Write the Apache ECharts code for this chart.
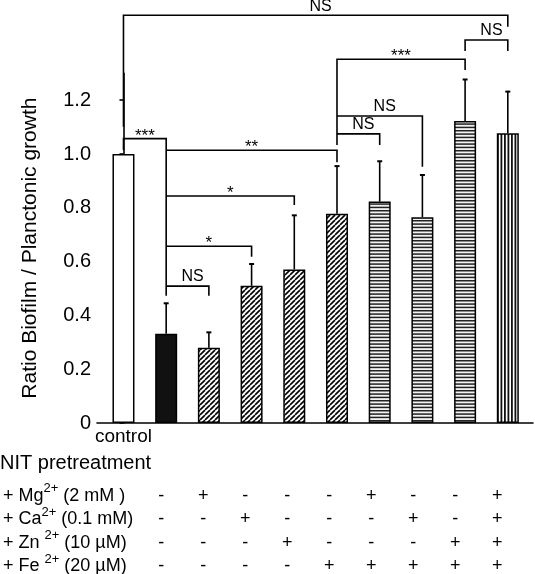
<!DOCTYPE html>
<html><head><meta charset="utf-8">
<script src="https://cdn.jsdelivr.net/npm/echarts@6/dist/echarts.min.js"></script>
<style>html,body{margin:0;padding:0;background:#fff}#c{width:535px;height:574px}</style>
</head><body><div id="c"></div>
<script>
// ---------- data ----------
const categories = ['control','NIT','NIT+Mg','NIT+Ca','NIT+Zn','NIT+Fe','NIT+Fe+Mg','NIT+Fe+Ca','NIT+Fe+Zn','NIT+Fe+Mg+Ca+Zn'];
const ratio      = [1.00, 0.332, 0.280, 0.510, 0.571, 0.778, 0.823, 0.765, 1.123, 1.077];
const errorTop   = [null, 0.445, 0.337, 0.591, 0.772, 0.955, 0.973, 0.922, 1.277, 1.232];
const barFill    = ['open','solid','diag','diag','diag','diag','horiz','horiz','horiz','vert'];
const yTicks     = [0, 0.2, 0.4, 0.6, 0.8, 1.0, 1.2];
const xTickLabels = ['control'];

const tableTitle = 'NIT pretreatment';
const rowNames = ['+ Mg{s|2+} (2 mM )', '+ Ca{s|2+} (0.1 mM)', '+ Zn {s|2+} (10 µM)', '+ Fe {s|2+} (20 µM)'];
const mgRow = ['', '-', '+', '-', '-', '-', '+', '-', '-', '+'];
const caRow = ['', '-', '-', '+', '-', '-', '-', '+', '-', '+'];
const znRow = ['', '-', '-', '-', '+', '-', '-', '-', '+', '+'];
const feRow = ['', '-', '-', '-', '-', '+', '+', '+', '+', '+'];

const bracketFrom     = [0, 8, 5, 5, 5, 0, 1, 1, 1, 1];
const bracketTo       = [9, 9, 8, 7, 6, 1, 5, 4, 3, 2];
const bracketLevel    = [1.516, 1.424, 1.352, 1.141, 1.075, 1.057, 1.014, 0.844, 0.657, 0.509];
const bracketLeftEnd  = [1.101, 1.383, 1.033, 1.141, 1.075, 1.015, 1.014, 0.844, 0.657, 0.509];
const bracketRightEnd = [1.473, 1.383, 1.312, 0.953, 1.033, 0.473, 0.969, 0.810, 0.618, 0.473];
const bracketLabel    = ['NS', 'NS', '***', 'NS', 'NS', '***', '**', '*', '*', 'NS'];

// ---------- styles ----------
const FONT = "'Liberation Sans', Arial, Helvetica, sans-serif";
function makePattern(kind) {
  const c = document.createElement('canvas');
  const g = c.getContext('2d');
  if (kind === 'diag') {
    c.width = 5; c.height = 5;
    g.fillStyle = '#fff'; g.fillRect(0, 0, 5, 5);
    g.strokeStyle = '#000'; g.lineWidth = 1.6;
    for (const o of [-5, 0, 5]) { g.beginPath(); g.moveTo(o, 5); g.lineTo(o + 5, 0); g.stroke(); }
  } else if (kind === 'horiz') {
    c.width = 4; c.height = 10;
    g.fillStyle = '#f2f2f2'; g.fillRect(0, 0, 4, 10);
    g.fillStyle = '#222';
    for (const o of [0, 3.333, 6.667]) g.fillRect(0, o, 4, 1.5);
  } else if (kind === 'vert') {
    c.width = 7; c.height = 4;
    g.fillStyle = '#fff'; g.fillRect(0, 0, 7, 4);
    g.fillStyle = '#111';
    g.fillRect(0, 0, 1.8, 4); g.fillRect(3.5, 0, 1.8, 4);
  }
  return { image: c, repeat: 'repeat' };
}
const fills = { open: '#fff', solid: '#111', diag: makePattern('diag'), horiz: makePattern('horiz'), vert: makePattern('vert') };

const chart = echarts.init(document.getElementById('c'), null, { renderer: 'canvas' });

const barData = ratio.map((v, i) => ({ value: [i, v], itemStyle: { color: fills[barFill[i]] } }));
const errData = [];
errorTop.forEach((t, i) => { if (t != null) errData.push([i, ratio[i], t]); });
const bracketData = bracketFrom.map((f, k) => [f, bracketTo[k], bracketLevel[k], bracketLeftEnd[k], bracketRightEnd[k], k]);
const tableData = [];
for (let i = 1; i < categories.length; i++) tableData.push([i, 0]);
const rows = [mgRow, caRow, znRow, feRow];
const rowOffsets = [73, 96.5, 120, 143.5];

const option = {
  animation: false,
  backgroundColor: '#fff',
  grid: { left: 97, right: 2, top: 423 - 1.3 * 269, bottom: 151 },
  xAxis: {
    type: 'value', min: -0.62, max: 9.59,
    axisLine: { show: true, lineStyle: { color: '#000', width: 1.6 } },
    axisTick: { show: false },
    splitLine: { show: false },
    axisLabel: {
      customValues: [0], margin: 4,
      formatter: v => xTickLabels[Math.round(v)] || '',
      color: '#000', fontSize: 19, fontFamily: FONT
    }
  },
  yAxis: {
    type: 'value', min: 0, max: 1.3,
    name: 'Ratio Biofilm / Planctonic growth', nameLocation: 'middle', nameGap: 56, nameRotate: 90,
    nameTextStyle: { color: '#000', fontSize: 21, fontFamily: FONT },
    axisLine: { show: true, lineStyle: { color: '#000', width: 1.6 } },
    axisTick: { show: true, customValues: yTicks, length: 4, lineStyle: { color: '#000', width: 1.6 } },
    splitLine: { show: false },
    axisLabel: {
      customValues: yTicks, margin: 6,
      formatter: v => v === 0 ? '0' : v.toFixed(1),
      color: '#000', fontSize: 20, fontFamily: FONT
    }
  },
  graphic: [
    { type: 'text', left: 0, top: 453, style: { text: tableTitle, fill: '#000', font: '20px ' + FONT } },
    ...rowNames.map((t, r) => ({
      type: 'text', left: 3, top: 423 + rowOffsets[r] - 14,
      style: {
        text: '{b|' + t.replace(/\{s\|([^}]*)\}/g, '}{s|$1}{b|') + '}',
        rich: {
          b: { fontSize: 18, lineHeight: 23, verticalAlign: 'bottom', fill: '#000', fontFamily: FONT },
          s: { fontSize: 13, lineHeight: 13, verticalAlign: 'top', fill: '#000', fontFamily: FONT }
        }
      }
    }))
  ],
  series: [
    {
      type: 'custom', name: 'error', z: 1,
      renderItem: (p, api) => {
        const a = api.coord([api.value(0), api.value(1)]);
        const b = api.coord([api.value(0), api.value(2)]);
        return { type: 'group', children: [
          { type: 'line', shape: { x1: a[0], y1: a[1], x2: b[0], y2: b[1] }, style: { stroke: '#000', lineWidth: 1.6 } },
          { type: 'line', shape: { x1: b[0] - 2.5, y1: b[1], x2: b[0] + 2.5, y2: b[1] }, style: { stroke: '#000', lineWidth: 2 } }
        ] };
      },
      data: errData
    },
    {
      type: 'bar', name: 'ratio', z: 2, barWidth: 22,
      itemStyle: { borderColor: '#000', borderWidth: 1.5 },
      data: barData
    },
    {
      type: 'custom', name: 'brackets', z: 3, clip: false,
      renderItem: (p, api) => {
        const x1 = api.value(0), x2 = api.value(1), lv = api.value(2), le = api.value(3), re = api.value(4), k = api.value(5);
        const pL = api.coord([x1, le]), pTL = api.coord([x1, lv]), pTR = api.coord([x2, lv]), pR = api.coord([x2, re]);
        const lab = bracketLabel[k];
        const isNS = lab === 'NS';
        return { type: 'group', children: [
          { type: 'polyline', shape: { points: [pL, pTL, pTR, pR] }, style: { stroke: '#000', lineWidth: 1.6, fill: null } },
          { type: 'text', x: (pTL[0] + pTR[0]) / 2 + (isNS ? 5 : 0), y: pTL[1] + (isNS ? -1 : 6),
            style: { text: lab, fill: '#000', font: (isNS ? '16px ' : '17px ') + FONT, align: 'center', verticalAlign: 'bottom' } }
        ] };
      },
      data: bracketData
    },
    {
      type: 'custom', name: 'table', z: 3, clip: false,
      renderItem: (p, api) => {
        const i = api.value(0);
        const c = api.coord([i, 0]);
        const x = c[0] - 5 - 0.7 * (i - 1);
        return { type: 'group', children: rows.map((row, r) => ({
          type: 'text', x: x, y: c[1] + rowOffsets[r],
          style: { text: row[i], fill: '#000', font: '18px ' + FONT, align: 'center', verticalAlign: 'middle' }
        })) };
      },
      data: tableData
    }
  ]
};
chart.setOption(option);
</script>
</body></html>
